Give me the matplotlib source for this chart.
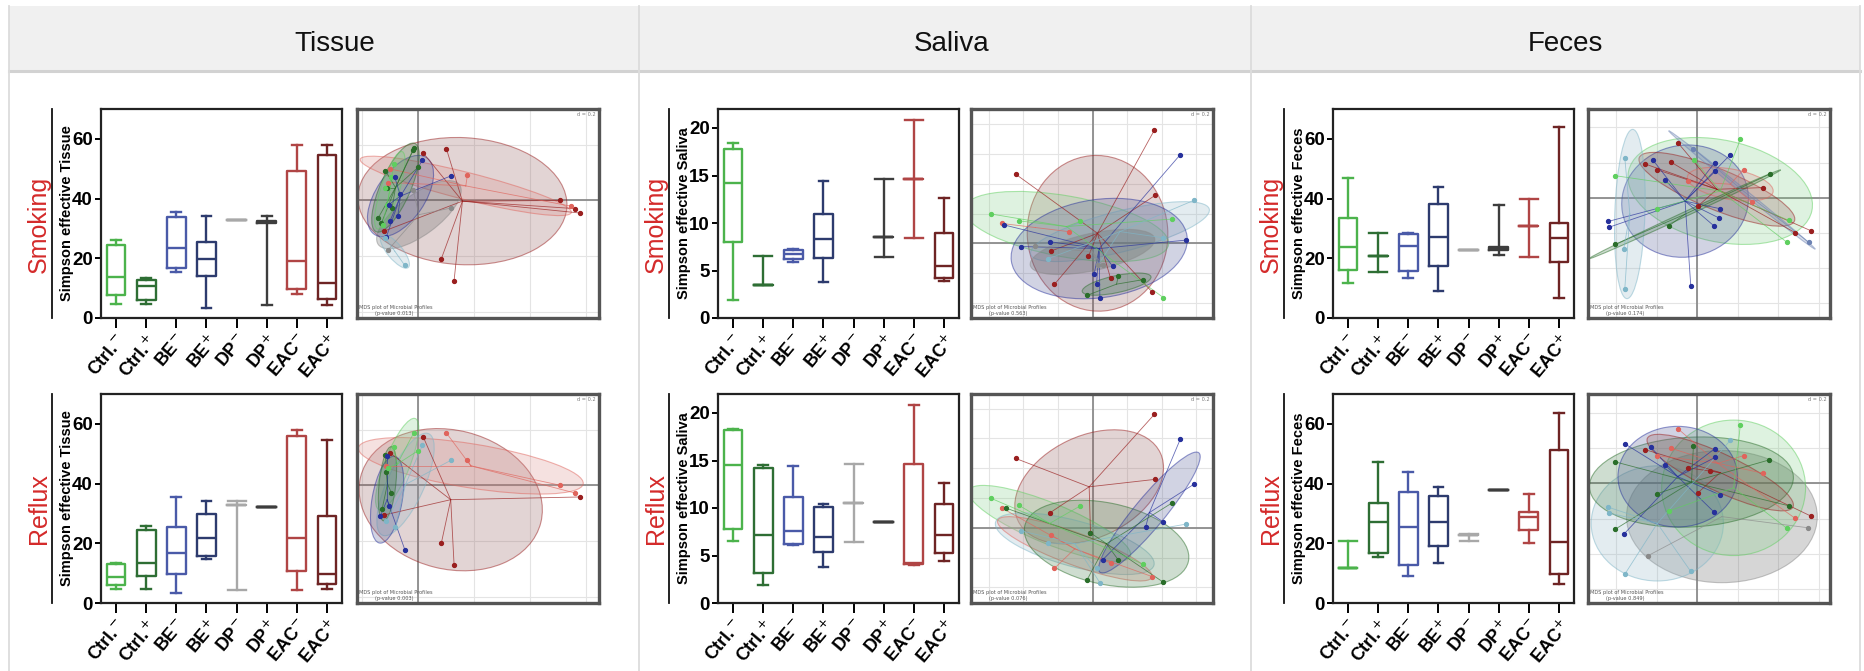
import numpy as np
import matplotlib.pyplot as plt
from matplotlib.patches import Ellipse, Rectangle
from matplotlib.lines import Line2D
from matplotlib.ticker import MultipleLocator

plt.rcParams["font.family"] = ["Liberation Sans Narrow", "Liberation Sans", "DejaVu Sans"]
plt.rcParams["mathtext.fontset"] = "dejavusans"

W, H = 1865, 671

SAMPLES = ["Tissue", "Saliva", "Feces"]
ROWS = ["Smoking", "Reflux"]
TICK_LABELS = ["Ctrl.$^{-}$", "Ctrl.$^{+}$", "BE$^{-}$", "BE$^{+}$",
               "DP$^{-}$", "DP$^{+}$", "EAC$^{-}$", "EAC$^{+}$"]
BOX_COLORS = ["#4cb34c", "#2e6e34", "#4a5aa8", "#2d3b6e",
              "#a8a8a8", "#3d3d3d", "#b04545", "#6e2424"]

# (whisker low, q1, median, q3, whisker high) per group, None = no data
tissue_smoking = [
    (4.8, 7.8, 13.6, 24.5, 26.2),
    (4.8, 6.0, 10.8, 12.7, 13.3),
    (15.5, 16.9, 23.4, 33.8, 35.5),
    (3.5, 14.0, 19.6, 25.6, 34.3),
    (32.9, 32.9, 32.9, 32.9, 32.9),
    (4.3, 31.8, 32.0, 32.5, 34.3),
    (7.9, 9.8, 19.2, 49.2, 58.0),
    (4.3, 6.3, 11.6, 54.5, 58.0),
]
tissue_reflux = [
    (4.7, 6.1, 8.7, 13.0, 13.4),
    (4.7, 9.2, 13.4, 24.5, 25.9),
    (3.4, 9.6, 16.9, 25.6, 35.5),
    (14.9, 15.8, 21.7, 29.8, 34.3),
    (4.2, 32.7, 32.7, 32.7, 34.3),
    (32.1, 32.1, 32.1, 32.1, 32.1),
    (4.2, 10.6, 21.7, 56.0, 58.1),
    (4.7, 6.2, 9.8, 29.0, 54.6),
]
saliva_smoking = [
    (1.9, 7.95, 14.2, 17.8, 18.4),
    (3.5, 3.5, 3.5, 3.5, 6.5),
    (5.9, 6.25, 6.7, 7.2, 7.3),
    (3.8, 6.3, 8.3, 10.9, 14.4),
    None,
    (6.4, 8.55, 8.55, 8.55, 14.6),
    (8.4, 14.6, 14.6, 14.6, 20.8),
    (3.9, 4.2, 5.5, 9.0, 12.6),
]
saliva_reflux = [
    (6.5, 7.76, 14.5, 18.2, 18.3),
    (1.9, 3.2, 7.2, 14.2, 14.5),
    (6.1, 6.2, 7.6, 11.2, 14.4),
    (3.8, 5.4, 6.9, 10.1, 10.4),
    (6.4, 10.5, 10.5, 10.5, 14.6),
    (8.5, 8.5, 8.5, 8.5, 8.5),
    (3.95, 4.1, 4.2, 14.6, 20.8),
    (4.4, 5.3, 7.2, 10.4, 12.6),
]
feces_smoking = [
    (11.7, 16.0, 23.7, 33.5, 47.0),
    (15.5, 20.8, 20.8, 20.8, 28.4),
    (13.4, 15.8, 24.2, 28.1, 28.4),
    (9.0, 17.5, 27.1, 38.3, 44.0),
    (22.8, 22.8, 22.8, 22.8, 22.8),
    (21.1, 22.9, 23.3, 23.7, 38.0),
    (20.3, 30.9, 30.9, 30.9, 39.7),
    (6.7, 18.8, 26.7, 31.8, 63.9),
]
feces_reflux = [
    (11.8, 11.8, 11.8, 11.8, 20.7),
    (15.4, 16.7, 27.2, 33.4, 47.1),
    (9.0, 12.6, 25.5, 37.1, 43.8),
    (13.4, 19.0, 27.2, 35.8, 38.8),
    (20.9, 22.8, 22.8, 22.8, 23.2),
    (37.9, 37.9, 37.9, 37.9, 37.9),
    (20.1, 24.4, 28.9, 30.6, 36.4),
    (6.4, 9.8, 20.4, 51.3, 63.7),
]

# MDS ordination: sample coordinates per cluster
MDS_COLORS = {
    "dkred": "#9a1f1f", "ltred": "#e0645c", "blue": "#26309c", "ltblue": "#7fb6c8",
    "dkgreen": "#2a6e2a", "ltgreen": "#5fcf5f", "gray": "#8a8a8a", "slate": "#6d83b3",
}
# muted fills for the ellipses
ELL_COLORS = {
    "dkred": "#8f5555", "ltred": "#d98a86", "blue": "#4a5290", "ltblue": "#90b4c4",
    "dkgreen": "#3f7a44", "ltgreen": "#7fcf84", "gray": "#5e5e5e", "slate": "#6d83b3",
}

mds_tissue_smoking = {
    "dkred": [(0.84, 1.53), (0.15, 1.40), (4.22, 0.0), (4.67, -0.24), (4.82, -0.37),
              (0.69, -1.72), (1.07, -2.37), (-1.01, -0.90)],
    "ltred": [(1.47, 0.76), (-0.83, 0.93), (-0.90, 0.53), (4.57, -0.17)],
    "dkgreen": [(-0.13, 1.55), (-0.15, 1.48), (0.0, 0.98), (-0.98, 0.88), (-0.93, 0.38),
                (-0.78, -0.22), (-1.20, -0.52), (-1.10, -0.67)],
    "ltgreen": [(-0.73, 1.08), (-0.80, 0.68), (-0.98, 0.36), (-0.93, -0.12), (-1.06, -0.72)],
    "blue": [(0.12, 1.18), (0.99, 0.73), (-0.70, 0.68), (-0.55, 0.18), (-0.88, -0.12),
             (-0.61, -0.45), (-0.85, -0.62), (-0.95, -1.07)],
    "gray": [(-0.15, 0.30), (0.99, -0.22), (-0.91, -1.47)],
    "ltblue": [(-0.40, -1.92), (-0.98, -1.10)],
}
mds_tissue_reflux = {
    "dkred": [(0.15, 1.43), (-0.83, 0.95), (4.82, -0.34), (0.69, -1.70), (1.07, -2.34),
              (-1.01, -0.87)],
    "ltred": [(0.84, 1.55), (1.47, 0.76), (4.22, 0.01), (4.67, -0.22), (-0.95, 0.58)],
    "dkgreen": [(-0.98, 0.90), (-0.95, 0.40), (-0.80, -0.22), (-1.08, -0.70)],
    "ltgreen": [(-0.13, 1.56), (-0.73, 1.13), (0.0, 1.03), (-0.90, 0.53)],
    "blue": [(-0.86, -0.60), (-1.13, -0.90), (-0.40, -1.90), (-0.93, 0.88)],
    "ltblue": [(0.12, 1.18), (0.99, 0.75), (-0.68, -1.24), (-0.95, -1.05)],
}
mds_saliva_smoking = {
    "dkred": [(1.85, 3.35), (-2.30, 2.05), (1.87, 1.42), (-1.23, -0.22), (-0.12, -0.38),
              (0.54, -1.03), (-1.14, -1.21), (1.78, -1.43)],
    "ltred": [(-2.70, 0.59), (-0.71, 0.35)],
    "blue": [(2.62, 2.62), (2.80, 0.10), (-2.13, -0.09), (-1.26, 0.05), (0.60, -0.67),
             (0.05, -0.90), (0.12, -1.20), (0.22, -1.62), (-2.65, 0.55)],
    "ltgreen": [(-3.03, 0.87), (-2.21, 0.67), (-0.36, 0.65), (2.37, 0.72), (2.12, -1.60)],
    "dkgreen": [(0.77, -0.95), (1.50, -1.07), (-0.16, -1.53)],
    "ltblue": [(3.02, 1.27), (2.10, 0.17), (-1.33, -0.45), (0.17, -0.63)],
    "gray": [(-1.73, -0.07), (0.17, -0.65), (0.30, -0.63)],
}
mds_saliva_reflux = {
    "dkred": [(1.85, 3.35), (-2.30, 2.05), (1.87, 1.43), (-1.26, 0.45), (-0.06, -0.15)],
    "ltred": [(-2.70, 0.58), (-1.23, -0.22), (0.54, -1.04), (-1.14, -1.20), (1.78, -1.44)],
    "blue": [(2.62, 2.61), (3.02, 1.28), (2.10, 0.18), (1.59, 0.03), (0.30, -0.95)],
    "dkgreen": [(-2.58, 0.58), (2.37, 0.73), (-0.06, -0.15), (0.77, -0.95), (-0.16, -1.53),
                (2.12, -1.61)],
    "ltgreen": [(-3.03, 0.87), (-2.21, 0.67), (-0.36, 0.65), (1.50, -1.07)],
    "ltblue": [(2.80, 0.11), (-2.13, -0.09), (-1.33, -0.45), (0.12, -1.20), (0.22, -1.62)],
}
mds_feces_smoking = {
    "dkred": [(-0.59, 1.63), (-1.57, 1.00), (-1.22, 0.83), (-0.79, 1.05), (1.96, 0.30),
              (0.01, -0.25), (3.38, -0.97), (2.92, -1.03)],
    "ltred": [(1.38, 0.83), (-0.29, 0.48), (1.63, -0.12)],
    "blue": [(-1.32, 1.10), (-0.97, 0.53), (0.98, 1.27), (0.51, 1.03), (0.53, 0.78),
             (0.66, -0.32), (0.65, -0.60), (0.48, -0.82), (-0.20, -2.60), (-2.67, -0.70),
             (-2.64, -0.87)],
    "dkgreen": [(2.16, 0.70), (-0.84, -0.82), (-2.47, -1.38)],
    "ltgreen": [(1.28, 1.72), (-2.45, 0.65), (-0.09, 1.10), (-1.20, -0.32), (2.73, -0.67),
                (2.68, -1.32)],
    "ltblue": [(-2.17, 1.17), (-2.20, -1.50), (-2.17, -2.68)],
    "slate": [(-0.12, 1.45), (3.33, -1.32)],
}
mds_feces_reflux = {
    "dkred": [(-1.57, 1.00), (-0.27, 0.46), (0.36, 0.37), (0.01, -0.28), (3.38, -0.96)],
    "ltred": [(-0.59, 1.62), (-0.79, 1.04), (-1.22, 0.82), (1.38, 0.82), (1.96, 0.30),
              (2.92, -1.03)],
    "blue": [(-2.17, 1.17), (-1.39, 1.07), (-0.97, 0.54), (0.51, 1.02), (0.53, 0.77),
             (0.66, -0.33), (0.48, -0.83), (-2.20, -1.50)],
    "dkgreen": [(-2.47, 0.64), (-0.12, 1.10), (2.13, 0.69), (-1.22, -0.31), (2.73, -0.66),
                (-2.47, -1.36)],
    "ltgreen": [(1.28, 1.72), (-0.84, -0.81), (2.68, -1.33)],
    "ltblue": [(0.98, 1.27), (-2.67, -0.70), (-2.64, -0.88), (-2.17, -2.68), (-0.20, -2.60)],
    "gray": [(-1.47, -2.13), (3.31, -1.31)],
}

# confidence ellipses: (cluster, centre x, centre y, width, height, angle)
ell_tissue_smoking = [
    ("dkred", 1.32, -0.02, 6.25, 3.75, -3),
    ("ltred", 1.42, 0.43, 6.5, 0.8, -14),
    ("gray", 0.02, -0.42, 3.0, 1.2, 36),
    ("blue", -0.53, 0.13, 2.75, 1.45, 55),
    ("dkgreen", -0.68, 0.38, 2.85, 0.9, 66),
    ("ltgreen", -0.85, 0.30, 2.4, 0.55, 72),
    ("ltblue", -0.70, -1.50, 1.25, 0.45, -50),
]
ell_tissue_reflux = [
    ("dkred", 0.97, -0.42, 5.55, 4.1, -14),
    ("ltred", 1.57, 0.58, 6.8, 1.3, -9),
    ("ltgreen", -0.63, 0.63, 2.9, 0.75, 68),
    ("ltblue", -0.38, 0.03, 3.3, 1.1, 65),
    ("blue", -0.93, -0.42, 2.6, 0.9, 80),
    ("dkgreen", -0.92, 0.05, 2.2, 0.5, 84),
]
ell_saliva_smoking = [
    ("dkred", 0.15, 0.30, 4.2, 4.6, 5),
    ("ltgreen", -0.78, 0.50, 6.2, 1.8, -10),
    ("ltblue", 0.82, 0.35, 5.5, 1.2, 14),
    ("blue", 0.20, -0.15, 5.3, 2.9, 8),
    ("gray", 0.0, -0.25, 3.8, 1.1, 12),
    ("dkgreen", 0.72, -1.20, 2.1, 0.5, 12),
]
ell_saliva_reflux = [
    ("dkred", -0.10, 1.21, 4.7, 3.0, 25),
    ("ltgreen", -1.28, 0.13, 5.2, 1.2, -22),
    ("ltblue", -0.53, -0.47, 4.9, 1.35, -15),
    ("ltred", -0.53, -0.62, 4.9, 0.95, -20),
    ("dkgreen", 0.42, -0.47, 5.0, 2.4, -12),
    ("blue", 1.70, 0.45, 4.6, 0.9, 50),
]
ell_feces_smoking = [
    ("ltgreen", 0.68, 0.20, 5.6, 3.0, -12),
    ("blue", -0.37, -0.10, 3.8, 3.3, 10),
    ("dkred", 0.58, 0.25, 5.0, 1.2, -22),
    ("ltred", 0.98, 0.40, 2.6, 0.9, -10),
    ("ltblue", -2.02, -0.48, 0.9, 5.0, -2),
    ("slate", 1.33, 0.23, 5.6, 0.14, -38.6),
    ("dkgreen", -0.38, -0.49, 6.3, 0.14, 24.6),
]
ell_feces_reflux = [
    ("gray", 0.73, -0.98, 5.7, 3.9, 0),
    ("ltblue", -1.20, -1.18, 3.95, 3.4, 0),
    ("ltgreen", 1.08, -0.13, 4.3, 4.0, 0),
    ("dkgreen", -0.18, 0.04, 6.1, 2.65, 3),
    ("blue", -0.59, 0.20, 3.57, 2.97, 0),
    ("dkred", 0.68, 0.32, 4.8, 1.1, -25),
]

PVALUES = [["0.013", "0.003"], ["0.563", "0.076"], ["0.174", "0.849"]]

BOX_DATA = [[tissue_smoking, tissue_reflux],
            [saliva_smoking, saliva_reflux],
            [feces_smoking, feces_reflux]]
MDS_DATA = [[(mds_tissue_smoking, ell_tissue_smoking), (mds_tissue_reflux, ell_tissue_reflux)],
            [(mds_saliva_smoking, ell_saliva_smoking), (mds_saliva_reflux, ell_saliva_reflux)],
            [(mds_feces_smoking, ell_feces_smoking), (mds_feces_reflux, ell_feces_reflux)]]

# layout in pixels
BOX_X = [101, 718, 1333]
MDS_X = [357, 971, 1588]
ROW_Y = [109, 394]
PANEL_H = 209
TITLE_X = [335, 952, 1565]
Y_LIM = [(0, 70), (0, 22), (0, 70)]
Y_TICKS = [[0, 20, 40, 60], [0, 5, 10, 15, 20], [0, 20, 40, 60]]
MDS_LIMS = [[(-1.83, 5.40, -3.47, 2.70), (-1.83, 5.40, -3.47, 2.70)],
            [(-3.63, 3.60, -2.20, 3.97), (-3.63, 3.60, -2.22, 3.95)],
            [(-3.27, 3.96, -3.55, 2.62), (-3.27, 3.96, -3.53, 2.64)]]
MDS_GRID = [(1.67, 1.65), (1.035, 0.88), (1.21, 1.04)]


def add_axes_px(fig, x0, y0, w, h):
    return fig.add_axes([x0 / W, 1 - (y0 + h) / H, w / W, h / H])


def fig_line(fig, xs, ys, **kw):
    fig.add_artist(Line2D([x / W for x in xs], [1 - y / H for y in ys],
                          transform=fig.transFigure, **kw))


def draw_box(ax, stats, ylim, yticks, ylabel, rowlab):
    pos = [i for i, s in enumerate(stats) if s is not None]
    rows = [s for s in stats if s is not None]
    bst = [dict(whislo=s[0], q1=s[1], med=s[2], q3=s[3], whishi=s[4]) for s in rows]
    caps = [0.6 if s[1] == s[3] else 0.32 for s in rows]
    art = ax.bxp(bst, positions=pos, widths=0.62, capwidths=caps,
                 showfliers=False, manage_ticks=False)
    for k, p in enumerate(pos):
        c = BOX_COLORS[p]
        art["boxes"][k].set(color=c, lw=1.7)
        art["medians"][k].set(color=c, lw=1.7)
        for ln in art["whiskers"][2 * k:2 * k + 2] + art["caps"][2 * k:2 * k + 2]:
            ln.set(color=c, lw=1.7)

    ax.set_xlim(-0.5, 7.5)
    ax.set_ylim(*ylim)
    ax.set_yticks(yticks)
    ax.set_xticks(range(8))
    ax.set_xticklabels(TICK_LABELS, rotation=50, ha="right", va="top",
                       rotation_mode="anchor", fontweight="bold", fontsize=13)
    for t in ax.get_yticklabels():
        t.set_fontweight("bold")
        t.set_fontsize(13.5)
    ax.tick_params(axis="y", direction="out", length=4, width=1.4, pad=2)
    ax.tick_params(axis="x", direction="out", length=7, width=1.4, pad=3)
    for sp in ax.spines.values():
        sp.set_linewidth(1.6)
        sp.set_color("#222222")

    ax.set_ylabel(ylabel, fontsize=10.5, fontweight="bold",
                  family=["Liberation Sans", "DejaVu Sans"])
    ax.yaxis.set_label_coords(-0.11, 0.5)
    ax.text(-0.257, 0.45, rowlab, rotation=90, ha="center", va="center",
            transform=ax.transAxes, color="#d42a2a", fontsize=18,
            family=["Liberation Sans", "DejaVu Sans"])
    ax.plot([-0.205, -0.205], [0, 1], transform=ax.transAxes, clip_on=False,
            color="#111111", lw=1.3)


def draw_mds(ax, pts, ells, lims, grid, pval):
    ax.set_xlim(lims[0], lims[1])
    ax.set_ylim(lims[2], lims[3])
    ax.xaxis.set_major_locator(MultipleLocator(grid[0]))
    ax.yaxis.set_major_locator(MultipleLocator(grid[1]))
    ax.grid(True, color="#e4e4e4", lw=0.8)
    ax.set_axisbelow(True)
    ax.tick_params(length=0, labelbottom=False, labelleft=False)
    ax.axhline(0, color="#8c8c8c", lw=1.3, zorder=1)
    ax.axvline(0, color="#8c8c8c", lw=1.3, zorder=1)
    for sp in ax.spines.values():
        sp.set_linewidth(2.4)
        sp.set_color("#555555")

    hubs = {}
    for grp, cx, cy, w, h, ang in ells:
        ax.add_patch(Ellipse((cx, cy), w, h, angle=ang, facecolor=ELL_COLORS[grp],
                             alpha=0.25, edgecolor="none", zorder=2))
        ax.add_patch(Ellipse((cx, cy), w, h, angle=ang, facecolor="none",
                             edgecolor=MDS_COLORS[grp], alpha=0.5, lw=0.8, zorder=2))
        hubs.setdefault(grp, (cx, cy))

    for grp, p in pts.items():
        c = MDS_COLORS[grp]
        xy = np.array(p)
        hx, hy = hubs.get(grp, xy.mean(axis=0))
        for x, y in xy:
            ax.plot([hx, x], [hy, y], color=c, lw=0.6, alpha=0.7, zorder=3)
        ax.plot(xy[:, 0], xy[:, 1], "o", ms=2.8, color=c, zorder=4)

    ax.text(0.01, 0.045, "MDS plot of Microbial Profiles", transform=ax.transAxes,
            fontsize=3.6, color="#555555", family=["DejaVu Sans"])
    ax.text(0.075, 0.012, f"(p-value {pval})", transform=ax.transAxes,
            fontsize=3.6, color="#555555", family=["DejaVu Sans"])
    ax.text(0.985, 0.985, "d = 0.2", transform=ax.transAxes, ha="right", va="top",
            fontsize=3.6, color="#777777", family=["DejaVu Sans"])


fig = plt.figure(figsize=(W / 100, H / 100), dpi=100)

# table frame and header band
fig.add_artist(Rectangle((9 / W, 1 - 70 / H), (1860 - 9) / W, 64 / H,
                         transform=fig.transFigure, facecolor="#f0f0f0",
                         edgecolor="none", zorder=0))
fig_line(fig, [9, 1860], [71, 71], color="#d2d2d2", lw=2.2)
for x in [9, 639, 1251, 1860]:
    fig_line(fig, [x, x], [6, 671], color="#dcdcdc", lw=1.3)

for ci, name in enumerate(SAMPLES):
    fig.text(TITLE_X[ci] / W, 1 - 44 / H, name, ha="center", va="center",
             fontsize=20, color="#111111")
    for ri, rowlab in enumerate(ROWS):
        bax = add_axes_px(fig, BOX_X[ci], ROW_Y[ri], 241, PANEL_H)
        draw_box(bax, BOX_DATA[ci][ri], Y_LIM[ci], Y_TICKS[ci],
                 f"Simpson effective {name}", rowlab)
        max_ = add_axes_px(fig, MDS_X[ci], ROW_Y[ri], 242, PANEL_H)
        pts, ells = MDS_DATA[ci][ri]
        draw_mds(max_, pts, ells, MDS_LIMS[ci][ri], MDS_GRID[ci], PVALUES[ci][ri])

fig.savefig("out.png", dpi=100)
